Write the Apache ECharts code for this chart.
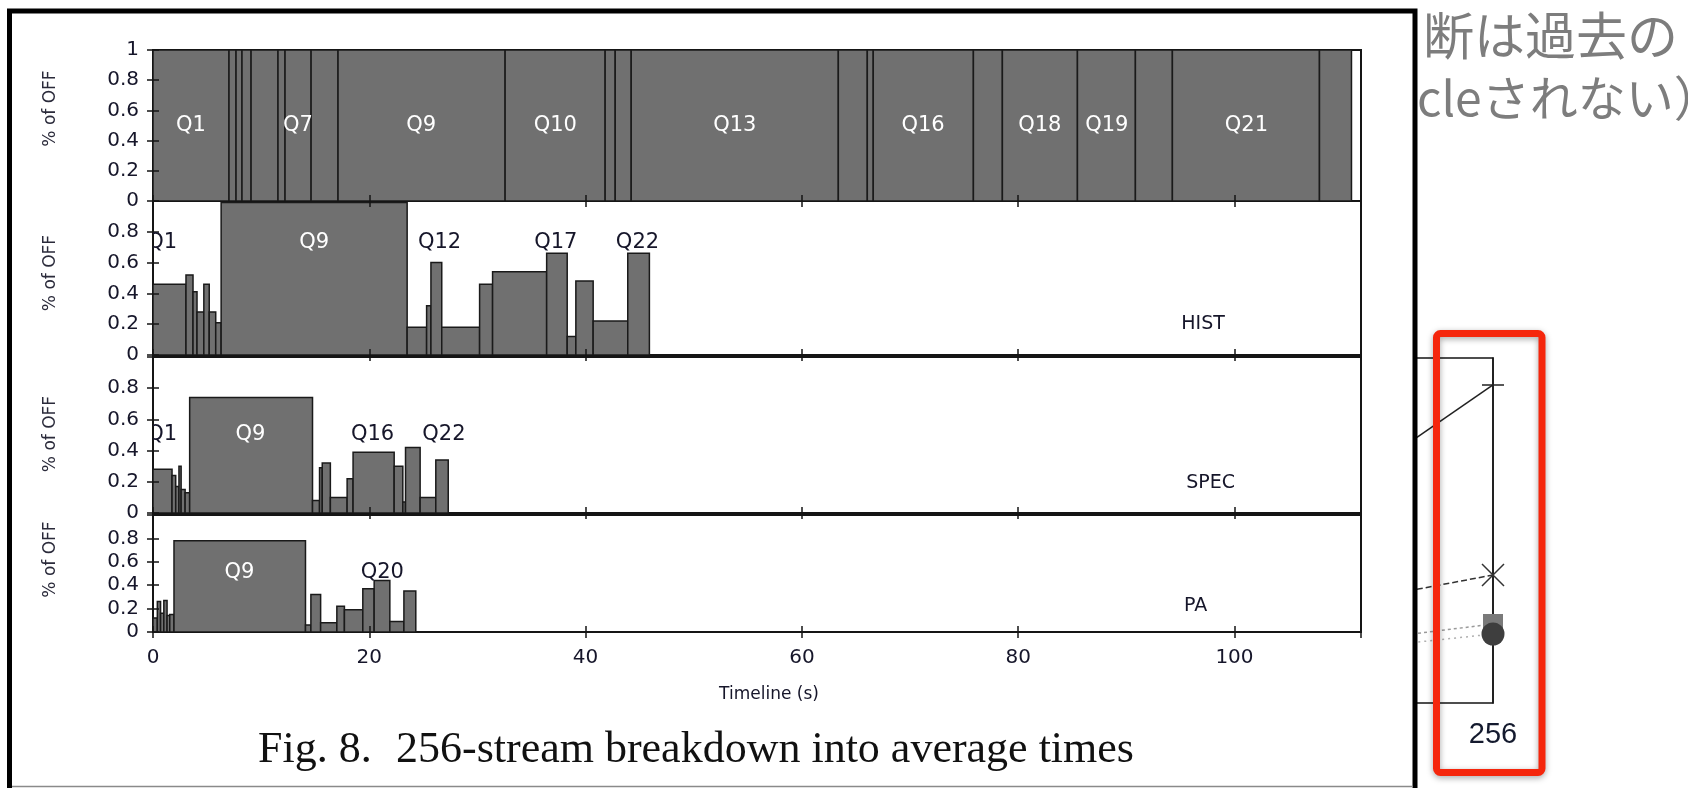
<!DOCTYPE html>
<html>
<head>
<meta charset="utf-8">
<script src="https://cdn.jsdelivr.net/npm/echarts/dist/echarts.min.js"></script>
<style>
  html, body { margin: 0; padding: 0; background: #fff; }
  #main { width: 1688px; height: 788px; }
</style>
</head>
<body>
<div id="main"></div>
<script>
// time axis (s)
var xMax = 111.7;
var xTicks = 20;

// ALL: one bar per query, edges in seconds
var allEdges = [0, 7.03, 7.68, 8.23, 9.07, 11.56, 12.21, 14.62, 17.11, 32.56, 41.81, 42.74,
  44.22, 63.37, 66.05, 66.6, 75.86, 78.54, 85.48, 90.84, 94.26, 107.86, 110.82];
var allVals = [1, 1, 1, 1, 1, 1, 1, 1, 1, 1, 1, 1, 1, 1, 1, 1, 1, 1, 1, 1, 1, 1];
var allLabels = ["Q1", "Q7", "Q9", "Q10", "Q13", "Q16", "Q18", "Q19", "Q21"];
var allLabelT = [3.5, 13.4, 24.8, 37.2, 53.8, 71.2, 82.0, 88.2, 101.1];
var allLabelV = [0.5, 0.5, 0.5, 0.5, 0.5, 0.5, 0.5, 0.5, 0.5];

// HIST
var histEdges = [0, 3.05, 3.7, 4.07, 4.7, 5.2, 5.8, 6.3, 23.5, 25.3, 25.7, 26.7, 30.2, 31.4,
  36.4, 38.3, 39.1, 40.7, 43.9, 45.9];
var histVals = [0.46, 0.52, 0.41, 0.28, 0.46, 0.28, 0.21, 0.99, 0.18, 0.32, 0.60, 0.18, 0.46,
  0.54, 0.66, 0.12, 0.48, 0.22, 0.66];
var histLabels = ["Q1", "Q9", "Q12", "Q17", "Q22", "HIST"];
var histLabelT = [0.85, 14.9, 26.5, 37.25, 44.8, 97.1];
var histLabelV = [0.73, 0.73, 0.73, 0.73, 0.73, 0.2];

// SPEC
var specEdges = [0, 1.76, 2.1, 2.4, 2.6, 2.97, 3.39, 14.75, 15.4, 15.65, 16.4, 17.95, 18.5,
  22.3, 23.1, 23.35, 24.7, 26.15, 27.3];
var specVals = [0.28, 0.24, 0.17, 0.30, 0.15, 0.13, 0.74, 0.08, 0.29, 0.32, 0.10, 0.22, 0.39,
  0.30, 0.07, 0.42, 0.10, 0.34];
var specLabels = ["Q1", "Q9", "Q16", "Q22", "SPEC"];
var specLabelT = [0.85, 9.0, 20.3, 26.9, 97.8];
var specLabelV = [0.5, 0.5, 0.5, 0.5, 0.19];

// PA
var paEdges = [0, 0.4, 0.7, 1.0, 1.3, 1.55, 1.94, 14.1, 14.6, 15.5, 17.0, 17.7, 19.4, 20.45,
  21.9, 23.2, 24.3];
var paVals = [0.12, 0.26, 0.16, 0.27, 0.14, 0.15, 0.78, 0.06, 0.32, 0.08, 0.22, 0.19, 0.37,
  0.44, 0.09, 0.35];
var paLabels = ["Q9", "Q20", "PA"];
var paLabelT = [8.0, 21.2, 96.4];
var paLabelV = [0.51, 0.51, 0.22];

// partial chart on the right of the slide
var streamCats = ["128", "256"];
var solidVals = [2.61, 4.61];
var dashedVals = [1.31, 1.855];
var squareVals = [0.785, 1.145];
var circleVals = [0.69, 1.0];

var panels = [
  { edges: allEdges, vals: allVals, labels: allLabels, lt: allLabelT, lv: allLabelV,
    top: 50, height: 151, maxLabel: true, namePad: 34 },
  { edges: histEdges, vals: histVals, labels: histLabels, lt: histLabelT, lv: histLabelV,
    top: 201, height: 154, maxLabel: false, namePad: 10 },
  { edges: specEdges, vals: specVals, labels: specLabels, lt: specLabelT, lv: specLabelV,
    top: 357, height: 156, maxLabel: false, namePad: 2 },
  { edges: paEdges, vals: paVals, labels: paLabels, lt: paLabelT, lv: paLabelV,
    top: 515, height: 117, maxLabel: false, namePad: 28 }
];

var sans = "DejaVu Sans, sans-serif";
var textColor = "#16162a";
var grid = [], xAxis = [], yAxis = [], series = [];

panels.forEach(function (p, i) {
  grid.push({ left: 153, top: p.top, width: 1208, height: p.height, show: true,
    borderColor: "#151515", borderWidth: 2, z: 10 });
  var tick = { show: true, inside: true, length: 6, lineStyle: { color: "#151515", width: 1.5 } };
  // bottom and mirrored top time axes
  xAxis.push({ gridIndex: i, type: "value", min: 0, max: xMax, interval: xTicks, z: 10,
    axisLine: { show: false }, axisTick: tick, splitLine: { show: false },
    axisLabel: { show: i === 3, showMaxLabel: false, fontSize: 20, color: textColor,
      fontFamily: sans, margin: 16 },
    name: i === 3 ? "Timeline (s)" : "", nameLocation: "middle", nameGap: 54,
    nameTextStyle: { fontSize: 17, color: textColor, fontFamily: sans,
      padding: [0, 0, 0, 24] } });
  xAxis.push({ gridIndex: i, type: "value", position: "top", min: 0, max: xMax,
    interval: xTicks, z: 10, axisLine: { show: false }, axisTick: tick,
    splitLine: { show: false }, axisLabel: { show: false } });
  // left and mirrored right OFF axes
  yAxis.push({ gridIndex: i, type: "value", min: 0, max: 1, interval: 0.2, z: 10,
    axisLine: { show: false }, axisTick: tick, splitLine: { show: false },
    axisLabel: { showMaxLabel: p.maxLabel, fontSize: 20, color: textColor,
      fontFamily: sans, margin: 14 },
    name: "% of OFF", nameLocation: "middle", nameGap: 94,
    nameTextStyle: { fontSize: 17, color: "#2a2a3a", fontFamily: sans,
      padding: [0, 0, 0, p.namePad] } });
  yAxis.push({ gridIndex: i, type: "value", position: "right", min: 0, max: 1,
    interval: 0.2, z: 10, axisLine: { show: false }, axisTick: tick,
    splitLine: { show: false }, axisLabel: { show: false } });

  var bars = [];
  for (var k = 0; k < p.vals.length; k++) bars.push([p.edges[k], p.edges[k + 1], p.vals[k]]);
  series.push({
    type: "custom", xAxisIndex: i * 2, yAxisIndex: i * 2, z: 10, clip: true, data: bars,
    renderItem: function (params, api) {
      var a = api.coord([api.value(0), 0]);
      var b = api.coord([api.value(1), api.value(2)]);
      return { type: "rect",
        shape: { x: a[0], y: b[1], width: b[0] - a[0], height: a[1] - b[1] },
        style: { fill: "#707070", stroke: "#1a1a1a", lineWidth: 1.5 } };
    }
  });

  // labels: white when they sit inside a bar
  var colors = p.labels.map(function (name, j) {
    var t = p.lt[j];
    for (var k = 0; k < p.vals.length; k++) {
      if (t >= p.edges[k] && t < p.edges[k + 1]) return p.vals[k] > p.lv[j] ? "#ffffff" : textColor;
    }
    return textColor;
  });
  var pts = p.labels.map(function (name, j) { return [p.lt[j], p.lv[j]]; });
  series.push({
    type: "custom", xAxisIndex: i * 2, yAxisIndex: i * 2, z: 11, clip: true, data: pts,
    renderItem: function (params, api) {
      var c = api.coord([api.value(0), api.value(1)]);
      var name = p.labels[params.dataIndex];
      var big = /^Q/.test(name);
      return { type: "text", x: c[0], y: c[1],
        style: { text: name, fill: colors[params.dataIndex],
          font: (big ? "21px " : "19px ") + sans,
          align: "center", verticalAlign: "middle",
          textAlign: "center", textVerticalAlign: "middle" } };
    }
  });
});

// right-hand partial line chart (mostly hidden behind the figure)
grid.push({ left: 1293, top: 358, width: 200, height: 345, show: true,
  borderColor: "#151515", borderWidth: 1.5, z: 0 });
xAxis.push({ gridIndex: 4, type: "category", data: streamCats, boundaryGap: false,
  axisLine: { show: false }, axisTick: { show: false },
  axisLabel: { fontSize: 29, color: "#141a2e", fontFamily: "Liberation Sans, Arial, sans-serif",
    margin: 17 } });
yAxis.push({ gridIndex: 4, type: "value", position: "right", min: 0, max: 5, interval: 1,
  axisLine: { show: true, lineStyle: { color: "#151515", width: 1.5 } },
  axisTick: { inside: true, length: 10, lineStyle: { color: "#151515", width: 1.5 } },
  axisLabel: { show: false }, splitLine: { show: false } });
series.push(
  { type: "line", xAxisIndex: 8, yAxisIndex: 8, data: solidVals,
    symbol: "path://M0,10L20,10M10,0L10,20", symbolSize: 22,
    lineStyle: { color: "#222", width: 1.5 },
    itemStyle: { color: "#222", borderColor: "#222", borderWidth: 1.5 } },
  { type: "line", xAxisIndex: 8, yAxisIndex: 8, data: dashedVals,
    symbol: "path://M0,0L20,20M20,0L0,20", symbolSize: 22,
    lineStyle: { color: "#333", width: 1.5, type: [6, 3] },
    itemStyle: { color: "#333", borderColor: "#333", borderWidth: 1.5 } },
  { type: "line", xAxisIndex: 8, yAxisIndex: 8, data: squareVals,
    symbol: "rect", symbolSize: [20, 20],
    lineStyle: { color: "#9a9a9a", width: 1.5, type: [3, 3] },
    itemStyle: { color: "#7a7a7a" } },
  { type: "line", xAxisIndex: 8, yAxisIndex: 8, data: circleVals,
    symbol: "circle", symbolSize: 23,
    lineStyle: { color: "#b0b0b0", width: 1.5, type: [2, 4] },
    itemStyle: { color: "#3e3e3e" } }
);

var graphic = [
  // slide text partly hidden behind the figure
  { type: "text", z: 1, x: 1423, y: 36,
    style: { text: "断は過去の", fill: "#7d7d7d", font: '51px "Noto Sans CJK JP"',
      textVerticalAlign: "middle", verticalAlign: "middle" } },
  { type: "text", z: 1, x: 1417, y: 98,
    style: { text: "cleされない）", fill: "#7d7d7d", font: '48px "Noto Sans CJK JP"',
      textVerticalAlign: "middle", verticalAlign: "middle" } },
  // figure frame
  { type: "rect", z: 5, shape: { x: 9.5, y: 11, width: 1405.5, height: 800 },
    style: { fill: "#fff", stroke: "#000", lineWidth: 5 } },
  { type: "line", z: 6, shape: { x1: 12, y1: 786.5, x2: 1413, y2: 786.5 },
    style: { stroke: "#8a8a8a", lineWidth: 1.5 } },
  { type: "text", z: 6, x: 258, y: 750,
    style: { text: "Fig. 8.", fill: "#111", font: '44px "Liberation Serif", serif',
      textVerticalAlign: "middle", verticalAlign: "middle" } },
  { type: "text", z: 6, x: 396, y: 750,
    style: { text: "256-stream breakdown into average times", fill: "#111",
      font: '44px "Liberation Serif", serif',
      textVerticalAlign: "middle", verticalAlign: "middle" } },
  // red highlight box
  { type: "rect", z: 30, shape: { x: 1436.5, y: 333.5, width: 105.5, height: 439, r: 4 },
    style: { fill: "none", stroke: "#f5260c", lineWidth: 7,
      shadowBlur: 6, shadowColor: "rgba(0,0,0,0.35)", shadowOffsetY: 2 } }
];

var myChart = echarts.init(document.getElementById("main"));
myChart.setOption({
  animation: false,
  backgroundColor: "#fff",
  grid: grid,
  xAxis: xAxis,
  yAxis: yAxis,
  series: series,
  graphic: graphic
});
</script>
</body>
</html>
